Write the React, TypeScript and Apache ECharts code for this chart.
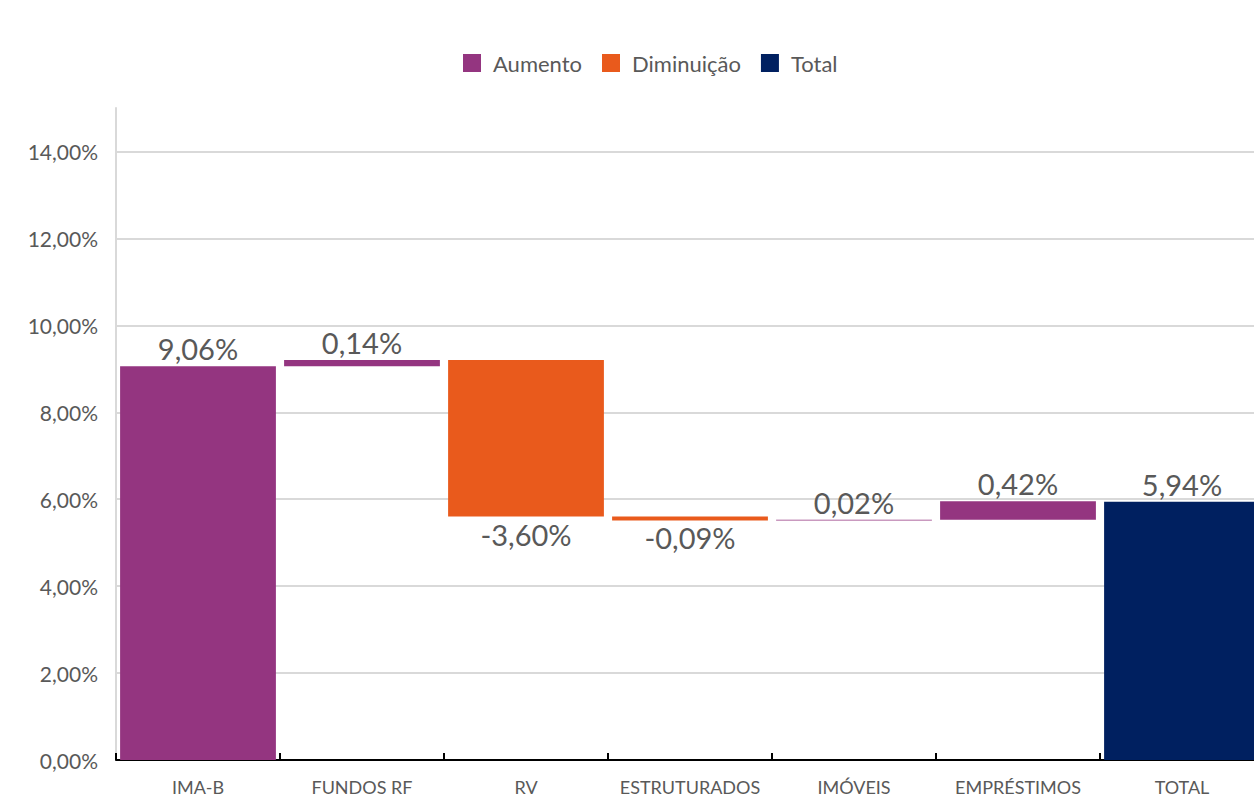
import React, { useEffect, useRef } from "react";
import * as echarts from "echarts";

const categories = ["IMA-B", "FUNDOS RF", "RV", "ESTRUTURADOS", "IMÓVEIS", "EMPRÉSTIMOS", "TOTAL"];
const deltas = [9.06, 0.14, -3.6, -0.09, 0.02, 0.42];
const totalValue = 5.94;
const yTicks = { min: 0, max: 15, interval: 2 };

const PURPLE = "#943580";
const ORANGE = "#E95A1C";
const NAVY = "#002060";
const TEXT = "#595959";
const FONT = "Lato";

const fmt = (v: number) => v.toFixed(2).replace(".", ",") + "%";

export default function App() {
  const ref = useRef<HTMLDivElement>(null);
  useEffect(() => {
    if (!ref.current) return;
    const chart = echarts.init(ref.current, null, { renderer: "svg" });
    const base: (number | string)[] = [];
    const up: (number | string)[] = [];
    const down: (number | string)[] = [];
    const tot: (number | string)[] = [];
    let run = 0;
    deltas.forEach((d) => {
      if (d >= 0) {
        base.push(run);
        up.push(d);
        down.push("-");
      } else {
        base.push(run + d);
        up.push("-");
        down.push(-d);
      }
      tot.push("-");
      run += d;
    });
    base.push(0);
    up.push("-");
    down.push("-");
    tot.push(totalValue);

    const labelStyle = { fontSize: 29, color: TEXT, fontFamily: FONT, distance: 3 };

    chart.setOption({
      animation: false,
      textStyle: { fontFamily: FONT },
      legend: {
        data: ["Aumento", "Diminuição", "Total"],
        top: 47,
        left: 458,
        icon: "rect",
        itemWidth: 18,
        itemHeight: 18,
        itemGap: 20,
        textStyle: { fontSize: 22, color: TEXT, fontFamily: FONT, padding: [0, 0, 0, 7] },
      },
      grid: { left: 116, right: 0, top: 108, bottom: 40, containLabel: false },
      xAxis: {
        type: "category",
        data: categories,
        axisLine: { lineStyle: { color: "#000", width: 2 } },
        axisTick: { show: true, inside: true, interval: 0, length: 7, lineStyle: { color: "#000", width: 2 } },
        axisLabel: { fontSize: 18, color: TEXT, fontFamily: FONT, margin: 18, interval: 0 },
      },
      yAxis: {
        type: "value",
        min: yTicks.min,
        max: yTicks.max,
        interval: yTicks.interval,
        axisLine: { show: true, lineStyle: { color: "#d9d9d9", width: 2 } },
        axisTick: { show: false },
        axisLabel: {
          fontSize: 21,
          color: TEXT,
          fontFamily: FONT,
          margin: 18,
          showMaxLabel: false,
          formatter: (v: number) => fmt(v),
        },
        splitLine: { show: true, showMaxLine: false, showMinLine: false, lineStyle: { color: "#d9d9d9", width: 2 } },
      },
      series: [
        {
          name: "base",
          type: "bar",
          stack: "w",
          data: base,
          itemStyle: { color: "transparent" },
          emphasis: { disabled: true },
          silent: true,
          barCategoryGap: "5%",
        },
        {
          name: "Aumento",
          type: "bar",
          stack: "w",
          data: up,
          itemStyle: { color: PURPLE },
          label: { show: true, position: "top", ...labelStyle, formatter: (p: any) => fmt(p.value) },
          barCategoryGap: "5%",
        },
        {
          name: "Diminuição",
          type: "bar",
          stack: "w",
          data: down,
          itemStyle: { color: ORANGE },
          label: { show: true, position: "bottom", ...labelStyle, formatter: (p: any) => "-" + fmt(p.value) },
          barCategoryGap: "5%",
        },
        {
          name: "Total",
          type: "bar",
          stack: "w",
          data: tot,
          itemStyle: { color: NAVY },
          label: { show: true, position: "top", ...labelStyle, formatter: (p: any) => fmt(p.value) },
          barCategoryGap: "5%",
        },
      ],
    });
    return () => chart.dispose();
  }, []);
  return (
    <div style={{ position: "absolute", left: 0, top: 0, width: 1254, height: 800, overflow: "hidden", background: "#fff" }}>
      <div ref={ref} style={{ width: 1264, height: 800 }} />
    </div>
  );
}
